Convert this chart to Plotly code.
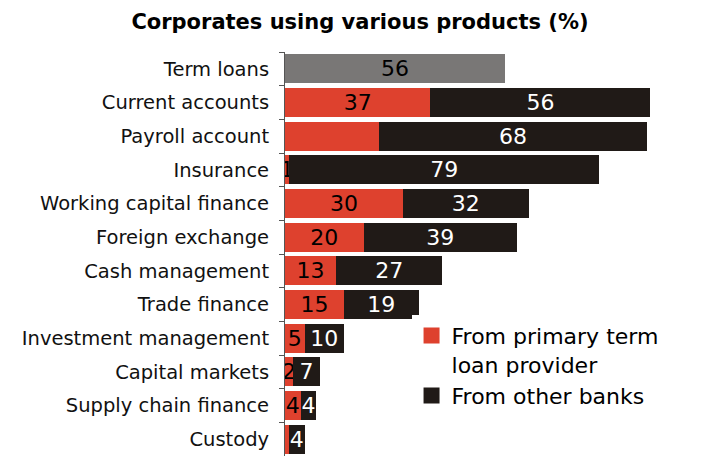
import plotly.graph_objects as go

# Product categories, top to bottom
products = [
    "Term loans", "Current accounts", "Payroll account", "Insurance",
    "Working capital finance", "Foreign exchange", "Cash management",
    "Trade finance", "Investment management", "Capital markets",
    "Supply chain finance", "Custody",
]

# Share of corporates (%)
term_loans = [56, None, None, None, None, None, None, None, None, None, None, None]
primary = [None, 37, 24, 1, 30, 20, 13, 15, 5, 2, 4, 1]
other_banks = [None, 56, 68, 79, 32, 39, 27, 19, 10, 7, 4, 4]

# Bars whose primary-provider value is left unlabelled
unlabelled_primary = {"Payroll account", "Custody"}

FONT = "DejaVu Sans"
GREY = "#797776"
RED = "#de412e"
DARK = "#201a17"

primary_text = [
    "" if (v is None or p in unlabelled_primary) else str(v)
    for p, v in zip(products, primary)
]
other_text = ["" if v is None else str(v) for v in other_banks]
term_text = ["" if v is None else str(v) for v in term_loans]

fig = go.Figure()
fig.add_bar(
    y=products, x=term_loans, orientation="h", marker_color=GREY,
    text=term_text, textposition="inside", insidetextanchor="middle",
    textfont=dict(color="black"), showlegend=False,
)
fig.add_bar(
    y=products, x=primary, orientation="h", marker_color=RED,
    text=primary_text, textposition="inside", insidetextanchor="middle",
    textfont=dict(color="black"), showlegend=False,
)
fig.add_bar(
    y=products, x=other_banks, orientation="h", marker_color=DARK,
    text=other_text, textposition="inside", insidetextanchor="middle",
    textfont=dict(color="white"), showlegend=False,
)

# Legend entries with larger square swatches
fig.add_scatter(
    x=[None], y=[None], mode="markers", name="From primary term<br>loan provider",
    marker=dict(symbol="square", size=16, color=RED),
)
fig.add_scatter(
    x=[None], y=[None], mode="markers", name="From other banks",
    marker=dict(symbol="square", size=16, color=DARK),
)

fig.update_traces(selector=dict(type="bar"), textangle=0, marker_line_width=0)

fig.update_layout(
    width=710, height=466,
    margin=dict(l=285, r=32, t=52, b=10),
    paper_bgcolor="white", plot_bgcolor="white",
    barmode="stack", bargap=0.14,
    font=dict(family=FONT, size=19.5, color="#111111"),
    uniformtext=dict(minsize=22, mode="show"),
    title=dict(
        text="<b>Corporates using various products (%)</b>",
        x=0.507, xref="container", xanchor="center",
        y=0.953, yref="container", yanchor="middle",
        font=dict(family=FONT, size=21, color="black"),
    ),
    xaxis=dict(
        range=[0, 100], visible=False, showgrid=False, zeroline=False,
    ),
    yaxis=dict(
        type="category", autorange="reversed",
        showline=True, linecolor="#555555", linewidth=1,
        ticks="outside", ticklen=5, tickcolor="#555555", tickson="boundaries",
        showgrid=False, ticklabelstandoff=11,
        tickfont=dict(family=FONT, size=19.5, color="#111111"),
    ),
    legend=dict(
        x=0.322, xanchor="left", y=0.35, yanchor="top",
        traceorder="normal", valign="top",
        bgcolor="white", font=dict(family=FONT, size=22, color="black"),
        itemwidth=30, tracegroupgap=0,
    ),
)

fig.write_html("out.html")
